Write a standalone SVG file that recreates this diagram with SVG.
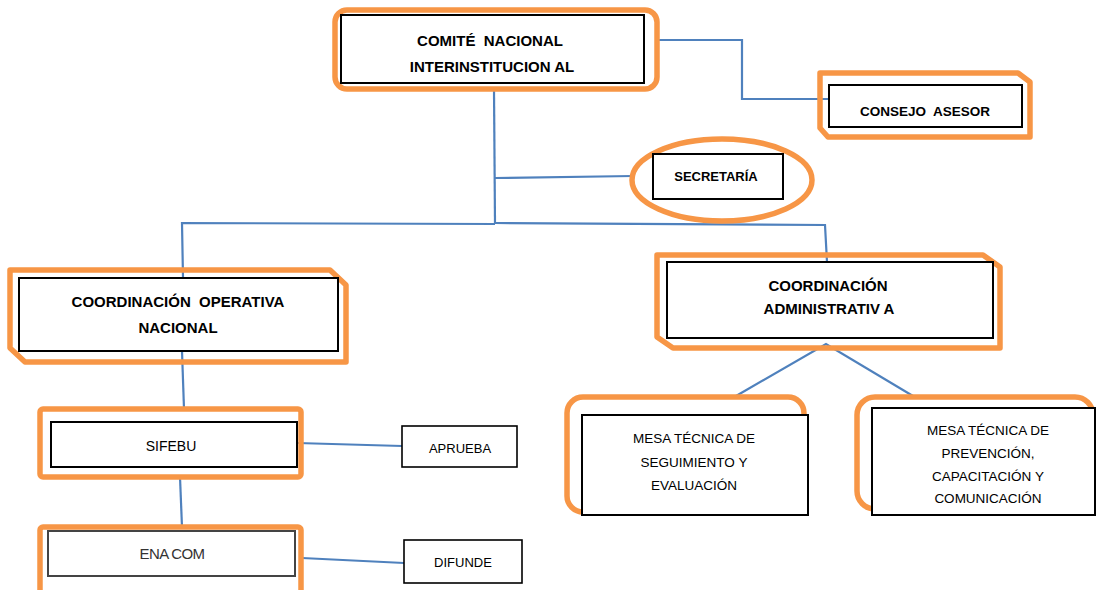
<svg xmlns="http://www.w3.org/2000/svg" width="1097" height="590" viewBox="0 0 1097 590">
<style>
.org{fill:none;stroke:#F79646;stroke-width:5.5;stroke-linejoin:round}
.box{fill:#fff;stroke:#000;stroke-width:2}
.small{fill:#fff;stroke:#000;stroke-width:1.6}
.lnk{fill:none;stroke:#4F81BD;stroke-width:2.2;stroke-linejoin:miter}
.b{font-family:"Liberation Sans",Arial,sans-serif;font-weight:bold;font-size:15px;fill:#000;text-anchor:middle;white-space:pre}
.r{font-family:"Liberation Sans",Arial,sans-serif;font-size:13px;fill:#000;text-anchor:middle}
.m{font-size:13.5px}
</style>
<rect width="1097" height="590" fill="#fff"/>
<g id="connectors">
<polyline class="lnk" points="657,40 742,40 742,99 829,99"/>
<line class="lnk" x1="494" y1="90" x2="495" y2="224"/>
<line class="lnk" x1="495" y1="178" x2="633" y2="176"/>
<polyline class="lnk" points="183,278 182,223 495,224"/>
<polyline class="lnk" points="495,223 825,225 827,262"/>
<line class="lnk" x1="182" y1="351" x2="184" y2="409"/>
<line class="lnk" x1="297" y1="443" x2="402" y2="446"/>
<line class="lnk" x1="180" y1="477" x2="182" y2="527"/>
<line class="lnk" x1="302" y1="558" x2="404" y2="563"/>
<polyline class="lnk" points="736,396 826,344 913,396"/>
</g>
<g id="comite">
<rect class="org" x="335" y="10" width="322" height="79" rx="12"/>
<rect class="box" x="341" y="15" width="303" height="68"/>
<text class="b" x="490" y="46" xml:space="preserve">COMITÉ  NACIONAL</text>
<text class="b" x="492" y="72">INTERINSTITUCION AL</text>
</g>
<g id="consejo">
<polygon class="org" points="820,73 1018,73 1030,82 1030,137 828,137 820,128"/>
<rect class="box" x="829" y="85" width="193" height="42"/>
<text class="b" x="925" y="116" style="font-size:13.5px" xml:space="preserve">CONSEJO  ASESOR</text>
</g>
<g id="secretaria">
<ellipse class="org" cx="722" cy="180" rx="90" ry="41"/>
<rect class="box" x="653" y="154" width="130" height="45"/>
<text class="b" x="716" y="181" style="font-size:13px">SECRETARÍA</text>
</g>
<g id="coord-operativa">
<polygon class="org" points="10,270 330,270 346,285 346,362 25,362 10,348"/>
<rect class="box" x="19" y="278" width="319" height="73"/>
<text class="b" x="178" y="307" xml:space="preserve">COORDINACIÓN  OPERATIVA</text>
<text class="b" x="178" y="333">NACIONAL</text>
</g>
<g id="coord-administrativa">
<polygon class="org" points="657,255 983,255 1000,267 1000,348 673,348 657,337"/>
<rect class="box" x="667" y="262" width="326" height="76"/>
<text class="b" x="828" y="291">COORDINACIÓN</text>
<text class="b" x="829" y="314">ADMINISTRATIV A</text>
</g>
<g id="sifebu">
<rect class="org" x="40" y="409" width="261" height="68" rx="3"/>
<rect class="box" x="51" y="422" width="246" height="45"/>
<text class="r" x="171" y="451" style="font-size:14px">SIFEBU</text>
</g>
<g id="aprueba">
<rect class="small" x="402" y="426" width="115" height="41"/>
<text class="r" x="460" y="453">APRUEBA</text>
</g>
<g id="enacom">
<rect class="org" x="40" y="527" width="261" height="70" rx="3"/>
<rect x="48" y="531" width="247" height="45" fill="#fff" stroke="#444" stroke-width="2"/>
<text class="r" x="172" y="559" style="font-size:15px;fill:#333;letter-spacing:-0.6px">ENA COM</text>
</g>
<g id="difunde">
<rect class="small" x="404" y="540" width="118" height="43"/>
<text class="r" x="463" y="567">DIFUNDE</text>
</g>
<g id="mesa-seguimiento">
<rect class="org" x="567" y="397" width="237" height="115" rx="16"/>
<rect class="box" x="582" y="415" width="226" height="100"/>
<text class="r m" x="694" y="443">MESA TÉCNICA DE</text>
<text class="r m" x="694" y="467">SEGUIMIENTO Y</text>
<text class="r m" x="694" y="490">EVALUACIÓN</text>
</g>
<g id="mesa-prevencion">
<rect class="org" x="857" y="397" width="236" height="112" rx="18"/>
<rect class="box" x="872" y="408" width="223" height="107"/>
<text class="r m" x="988" y="435">MESA TÉCNICA DE</text>
<text class="r m" x="988" y="458">PREVENCIÓN,</text>
<text class="r m" x="988" y="481">CAPACITACIÓN Y</text>
<text class="r m" x="988" y="503">COMUNICACIÓN</text>
</g>
</svg>
